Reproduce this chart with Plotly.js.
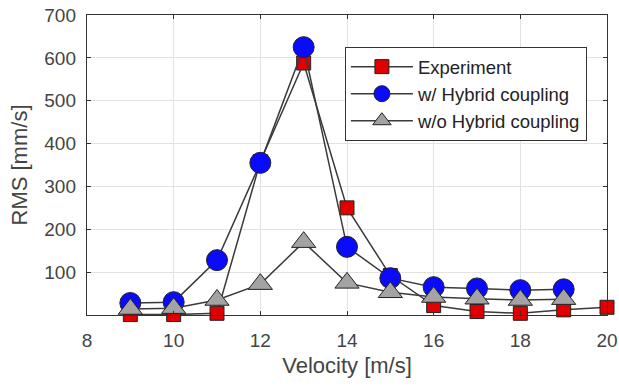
<!DOCTYPE html>
<html>
<head>
<meta charset="utf-8">
<script src="https://cdn.plot.ly/plotly-3.0.1.min.js"></script>
<style>html,body{margin:0;padding:0;background:#fff;}#chart{width:619px;height:386px;}</style>
</head>
<body>
<div id="chart"></div>
<script>
const velocity = [9, 10, 11, 12, 13, 14, 15, 16, 17, 18, 19, 20];
const experiment = [1, 1, 4, 358, 588, 250, 92, 22, 8, 4, 12, 18];
const velocityModel = [9, 10, 11, 12, 13, 14, 15, 16, 17, 18, 19];
const withHybrid = [28, 30, 128, 355, 625, 159, 86, 65, 62, 58, 60];
const withoutHybrid = [14, 16, 35, 72, 170, 75, 53, 42, 38, 35, 37];
const xTicks = [8, 10, 12, 14, 16, 18, 20];
const yTicks = [100, 200, 300, 400, 500, 600, 700];

const FONT = 'Liberation Sans, Arial, sans-serif';
const lineStyle = {color: '#3a3a3a', width: 1.5};
const traces = [
  {x: velocity, y: experiment, name: 'Experiment', mode: 'lines+markers', line: lineStyle, cliponaxis: false,
   marker: {symbol: 'square', size: 14, color: '#e00000', line: {color: '#222', width: 1}}},
  {x: velocityModel, y: withHybrid, name: 'w/ Hybrid coupling', mode: 'lines+markers', line: lineStyle, cliponaxis: false,
   marker: {symbol: 'circle', size: 21, color: '#0a0aff', line: {color: '#222', width: 1}}},
  {x: velocityModel, y: withoutHybrid, name: 'w/o Hybrid coupling', mode: 'lines+markers', line: lineStyle, cliponaxis: false,
   marker: {symbol: 'triangle-up', size: 21, color: '#a3a3a3', line: {color: '#222', width: 1}}}
];

const axisCommon = {
  showgrid: true, gridcolor: '#e2e2e2', gridwidth: 1,
  showline: true, linecolor: '#333', linewidth: 1.2, mirror: 'ticks',
  ticks: 'inside', ticklen: 4, tickcolor: '#333',
  zeroline: false,
  tickfont: {family: FONT, size: 19, color: '#444'}
};

const layout = {
  width: 619, height: 386,
  margin: {l: 87, r: 12, t: 15, b: 71},
  paper_bgcolor: '#fff', plot_bgcolor: '#fff',
  showlegend: true,
  legend: {
    x: 0.496, y: 0.893, xanchor: 'left', yanchor: 'top',
    bgcolor: '#fff', bordercolor: '#333', borderwidth: 1,
    font: {family: FONT, size: 18.5, color: '#222'},
    itemwidth: 62, tracegroupgap: 0
  },
  xaxis: Object.assign({}, axisCommon, {
    range: [8, 20], tickvals: xTicks, ticktext: xTicks.map(String),
    ticklabelstandoff: 8,
    title: {text: 'Velocity [m/s]', font: {family: FONT, size: 22, color: '#444'}, standoff: 7}
  }),
  yaxis: Object.assign({}, axisCommon, {
    range: [0, 700], tickvals: yTicks, ticktext: yTicks.map(String),
    ticklabelstandoff: 6,
    title: {text: 'RMS [mm/s]', font: {family: FONT, size: 22, color: '#444'}, standoff: 10}
  })
};

Plotly.newPlot('chart', traces, layout, {displayModeBar: false, staticPlot: true});
</script>
</body>
</html>
